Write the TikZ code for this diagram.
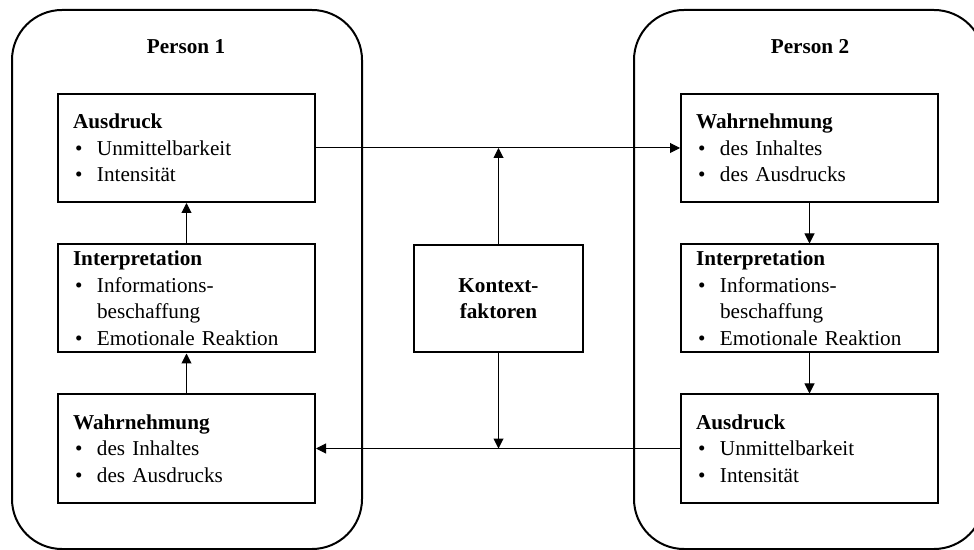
\documentclass[tikz,border=0pt]{standalone}
\usepackage{fontspec}
\setmainfont{Liberation Serif}
\usetikzlibrary{arrows.meta}
\tikzstyle{person}=[draw, line width=1pt, rounded corners=25pt]
\tikzstyle{title}=[anchor=base, font=\fontsize{10.6}{13.25}\selectfont\bfseries]
\tikzstyle{box}=[draw, line width=1pt, minimum width=128.5pt, minimum height=54pt, text width=113.5pt, inner xsep=7.5pt, align=left, font=\fontsize{10.6}{13.25}\selectfont]
\tikzstyle{context}=[draw, line width=1pt, minimum width=84.5pt, minimum height=53.5pt, align=center, font=\fontsize{10.6}{13.25}\selectfont\bfseries]
\tikzstyle{arrow}=[draw=black, line width=0.5pt, -{Triangle[length=5pt, width=5pt]}]
\newcommand{\bul}[1]{\makebox[12pt][l]{\hspace{1pt}\textbullet}#1}
\newcommand{\cont}[1]{\hspace*{12pt}#1}

\begin{document}
\begin{tikzpicture}[x=0.5pt, y=-0.5pt]
		   \useasboundingbox (0,0) rectangle (974,550);
		   \clip (0,0) rectangle (974,550);
		   \begin{scope}
			   \draw[person] (12,10) rectangle (362,549);
			   \draw[person] (634,10) rectangle (984,549);

			   \node (t1) at (186,54)[title] {Person 1};
			   \node (t2) at (810,54)[title] {Person 2};

			   \node (a1) at (186.5,148)[box] {\textbf{Ausdruck}\\ \bul{Unmittelbarkeit}\\ \bul{Intensität}};
			   \node (i1) at (186.5,298.5)[box] {\textbf{Interpretation}\\ \bul{Informations-}\\ \cont{beschaffung}\\ \bul{Emotionale Reaktion}};
			   \node (w1) at (186.5,448.5)[box] {\textbf{Wahrnehmung}\\ \bul{des Inhaltes}\\ \bul{des Ausdrucks}};

			   \node (w2) at (809.5,148)[box] {\textbf{Wahrnehmung}\\ \bul{des Inhaltes}\\ \bul{des Ausdrucks}};
			   \node (i2) at (809.5,298.5)[box] {\textbf{Interpretation}\\ \bul{Informations-}\\ \cont{beschaffung}\\ \bul{Emotionale Reaktion}};
			   \node (a2) at (809.5,448.5)[box] {\textbf{Ausdruck}\\ \bul{Unmittelbarkeit}\\ \bul{Intensität}};

			   \node (k) at (498.5,298.5)[context] {Kontext-\\faktoren};
			   \coordinate (k1) at (498.5,148);
			   \coordinate (k2) at (498.5,448.5);
		   \end{scope}
		   \begin{scope}
			   \path [arrow] (w1) edge (i1);
			   \path [arrow] (i1) edge (a1);
			   \path [arrow] (a1) edge (w2);

			   \path [arrow] (w2) edge (i2);
			   \path [arrow] (i2) edge (a2);
			   \path [arrow] (a2) edge (w1);

			   \path [arrow] (k) edge (k1);
			   \path [arrow] (k) edge (k2);
		   \end{scope}
	   \end{tikzpicture}
\end{document}
